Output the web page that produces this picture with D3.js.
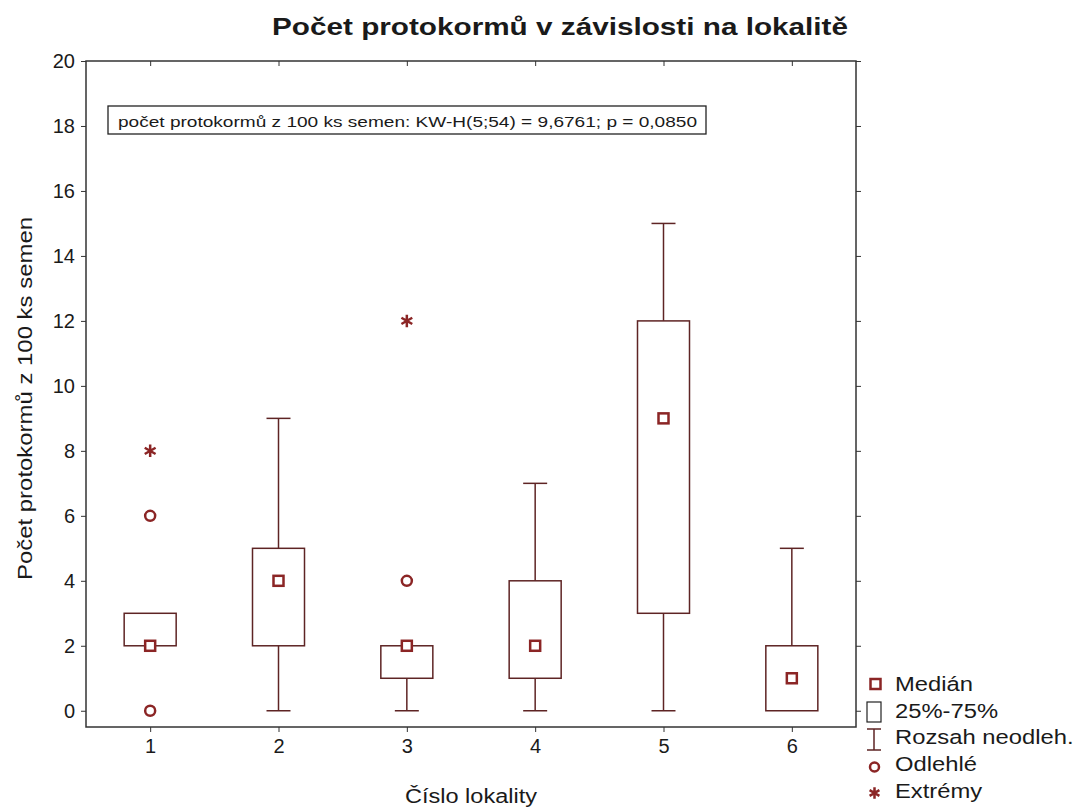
<!DOCTYPE html>
<html>
<head>
<meta charset="utf-8">
<style>
body { margin: 0; background: #fff; }
svg text { font-family: Arial, "Liberation Sans", sans-serif; fill: #1a1a1a; }
.axis path, .axis line { stroke: #333; }
.axis text { font-size: 20px; fill: #1a1a1a; }
</style>
</head>
<body>
<svg width="1074" height="807"></svg>
<script src="https://d3js.org/d3.v7.min.js"></script>
<script>

// data
var lokality = [1, 2, 3, 4, 5, 6];
var q1      = [2, 2, 1, 1, 3, 0];
var q3      = [3, 5, 2, 4, 12, 2];
var median  = [2, 4, 2, 2, 9, 1];
var whiskLo = [2, 0, 0, 0, 0, 0];
var whiskHi = [3, 9, 2, 7, 15, 5];
var odlehle = [[0, 6], [], [4], [], [], []];
var extremy = [[8], [], [12], [], [], []];
var yTicks = [0, 2, 4, 6, 8, 10, 12, 14, 16, 18, 20];

var legendItems = ["Medián", "25%-75%", "Rozsah neodleh.", "Odlehlé", "Extrémy"];

var boxColor = "#5e2424",
    markColor = "#8b2525",
    stretch = 1.22;   // the text in the picture is wider than plain Arial

var svg = d3.select("svg"),
    margin = {top: 61, right: 218, bottom: 80, left: 86},
    width = 1074 - margin.left - margin.right,
    height = 807 - margin.top - margin.bottom;

var x = d3.scaleLinear().domain([0.5, 6.5]).range([0, width]),
    y = d3.scaleLinear().domain([-0.5, 20]).range([height, 0]);

var g = svg.append("g")
    .attr("transform", "translate(" + margin.left + "," + margin.top + ")");

// frame
g.append("rect")
    .attr("width", width).attr("height", height)
    .attr("fill", "none").attr("stroke", "#333").attr("stroke-width", 1.5);

g.append("g")
    .attr("class", "axis")
    .call(d3.axisLeft(y).tickValues(yTicks).tickSize(5).tickPadding(6))
    .call(function(s) { s.select(".domain").remove(); });

g.append("g")
    .attr("class", "axis")
    .attr("transform", "translate(0," + height + ")")
    .call(d3.axisBottom(x).tickValues(lokality).tickFormat(d3.format("d")).tickSize(5).tickPadding(7))
    .call(function(s) { s.select(".domain").remove(); });

// inner ticks on top and right
g.append("g")
    .attr("class", "axis")
    .call(d3.axisBottom(x).tickValues(lokality).tickSize(5).tickFormat(""))
    .call(function(s) { s.select(".domain").remove(); });

g.append("g")
    .attr("class", "axis")
    .attr("transform", "translate(" + width + ",0)")
    .call(d3.axisLeft(y).tickValues(yTicks).tickSize(-5).tickFormat(""))
    .call(function(s) { s.select(".domain").remove(); });

// the KW annotation
svg.append("rect")
    .attr("x", 108).attr("y", 106).attr("width", 598).attr("height", 28)
    .attr("fill", "#fff").attr("stroke", "#222").attr("stroke-width", 1.3);
svg.append("text")
    .attr("x", 118).attr("y", 127)
    .attr("font-size", 15.5)
    .attr("textLength", 579).attr("lengthAdjust", "spacingAndGlyphs")
    .text("počet protokormů z 100 ks semen: KW-H(5;54) = 9,6761; p = 0,0850");

var boxHalf = 26, capHalf = 12;

var boxes = g.selectAll(".box")
    .data(lokality)
    .enter().append("g")
    .attr("class", "box");

// whiskers
boxes.append("line")
    .attr("x1", function(d) { return x(d); })
    .attr("x2", function(d) { return x(d); })
    .attr("y1", function(d, i) { return y(whiskHi[i]); })
    .attr("y2", function(d, i) { return y(q3[i]); })
    .attr("stroke", boxColor).attr("stroke-width", 1.5);
boxes.append("line")
    .attr("x1", function(d) { return x(d); })
    .attr("x2", function(d) { return x(d); })
    .attr("y1", function(d, i) { return y(whiskLo[i]); })
    .attr("y2", function(d, i) { return y(q1[i]); })
    .attr("stroke", boxColor).attr("stroke-width", 1.5);
boxes.filter(function(d, i) { return whiskHi[i] > q3[i]; }).append("line")
    .attr("x1", function(d) { return x(d) - capHalf; })
    .attr("x2", function(d) { return x(d) + capHalf; })
    .attr("y1", function(d) { return y(whiskHi[d - 1]); })
    .attr("y2", function(d) { return y(whiskHi[d - 1]); })
    .attr("stroke", boxColor).attr("stroke-width", 1.5);
boxes.filter(function(d, i) { return whiskLo[i] < q1[i]; }).append("line")
    .attr("x1", function(d) { return x(d) - capHalf; })
    .attr("x2", function(d) { return x(d) + capHalf; })
    .attr("y1", function(d) { return y(whiskLo[d - 1]); })
    .attr("y2", function(d) { return y(whiskLo[d - 1]); })
    .attr("stroke", boxColor).attr("stroke-width", 1.5);

// boxes
boxes.append("rect")
    .attr("x", function(d) { return x(d) - boxHalf; })
    .attr("width", boxHalf * 2)
    .attr("y", function(d, i) { return y(q3[i]); })
    .attr("height", function(d, i) { return y(q1[i]) - y(q3[i]); })
    .attr("fill", "#fff").attr("stroke", boxColor).attr("stroke-width", 1.5);

// medians
boxes.append("rect")
    .attr("x", function(d) { return x(d) - 5; })
    .attr("y", function(d, i) { return y(median[i]) - 5; })
    .attr("width", 10).attr("height", 10)
    .attr("fill", "#fff").attr("stroke", markColor).attr("stroke-width", 2.5);

// outliers and extremes
lokality.forEach(function(d, i) {
  g.selectAll(null).data(odlehle[i]).enter().append("circle")
      .attr("cx", x(d)).attr("cy", function(v) { return y(v); })
      .attr("r", 5)
      .attr("fill", "#fff").attr("stroke", markColor).attr("stroke-width", 2.5);
  g.selectAll(null).data(extremy[i]).enter().append("path")
      .attr("transform", function(v) { return "translate(" + x(d) + "," + y(v) + ")"; })
      .attr("d", d3.symbol(d3.symbolAsterisk, 110))
      .attr("fill", "none").attr("stroke", markColor).attr("stroke-width", 2.5);
});

// title and axis labels
svg.append("text")
    .attr("x", 272).attr("y", 35)
    .attr("font-size", 23).attr("font-weight", "bold")
    .attr("textLength", 576).attr("lengthAdjust", "spacingAndGlyphs")
    .text("Počet protokormů v závislosti na lokalitě");

svg.append("text")
    .attr("x", 405).attr("y", 803)
    .attr("font-size", 19.5)
    .attr("textLength", 132).attr("lengthAdjust", "spacingAndGlyphs")
    .text("Číslo lokality");

svg.append("text")
    .attr("transform", "translate(32,580) rotate(-90)")
    .attr("font-size", 20)
    .attr("textLength", 363).attr("lengthAdjust", "spacingAndGlyphs")
    .text("Počet protokormů z 100 ks semen");

// legend
var leg = svg.append("g");
leg.append("rect").attr("x", 870.5).attr("y", 679).attr("width", 10).attr("height", 10)
    .attr("fill", "#fff").attr("stroke", markColor).attr("stroke-width", 2.5);
leg.append("rect").attr("x", 867).attr("y", 702).attr("width", 14).attr("height", 20)
    .attr("fill", "#fff").attr("stroke", "#222").attr("stroke-width", 1.2);
leg.append("path")
    .attr("d", "M867,729H881M874,729V750M867,750H881")
    .attr("fill", "none").attr("stroke", boxColor).attr("stroke-width", 1.5);
leg.append("circle").attr("cx", 874.5).attr("cy", 767).attr("r", 4.5)
    .attr("fill", "#fff").attr("stroke", markColor).attr("stroke-width", 2.5);
leg.append("path").attr("transform", "translate(874.5,793)")
    .attr("d", d3.symbol(d3.symbolAsterisk, 90))
    .attr("fill", "none").attr("stroke", markColor).attr("stroke-width", 2.5);
leg.selectAll(".lt").data(legendItems).enter().append("text")
    .attr("class", "lt")
    .attr("transform", function(d, i) { return "translate(895," + (691 + i * 26.7) + ") scale(" + stretch + ",1)"; })
    .attr("font-size", 19.5)
    .text(function(d) { return d; });

</script>
</body>
</html>
